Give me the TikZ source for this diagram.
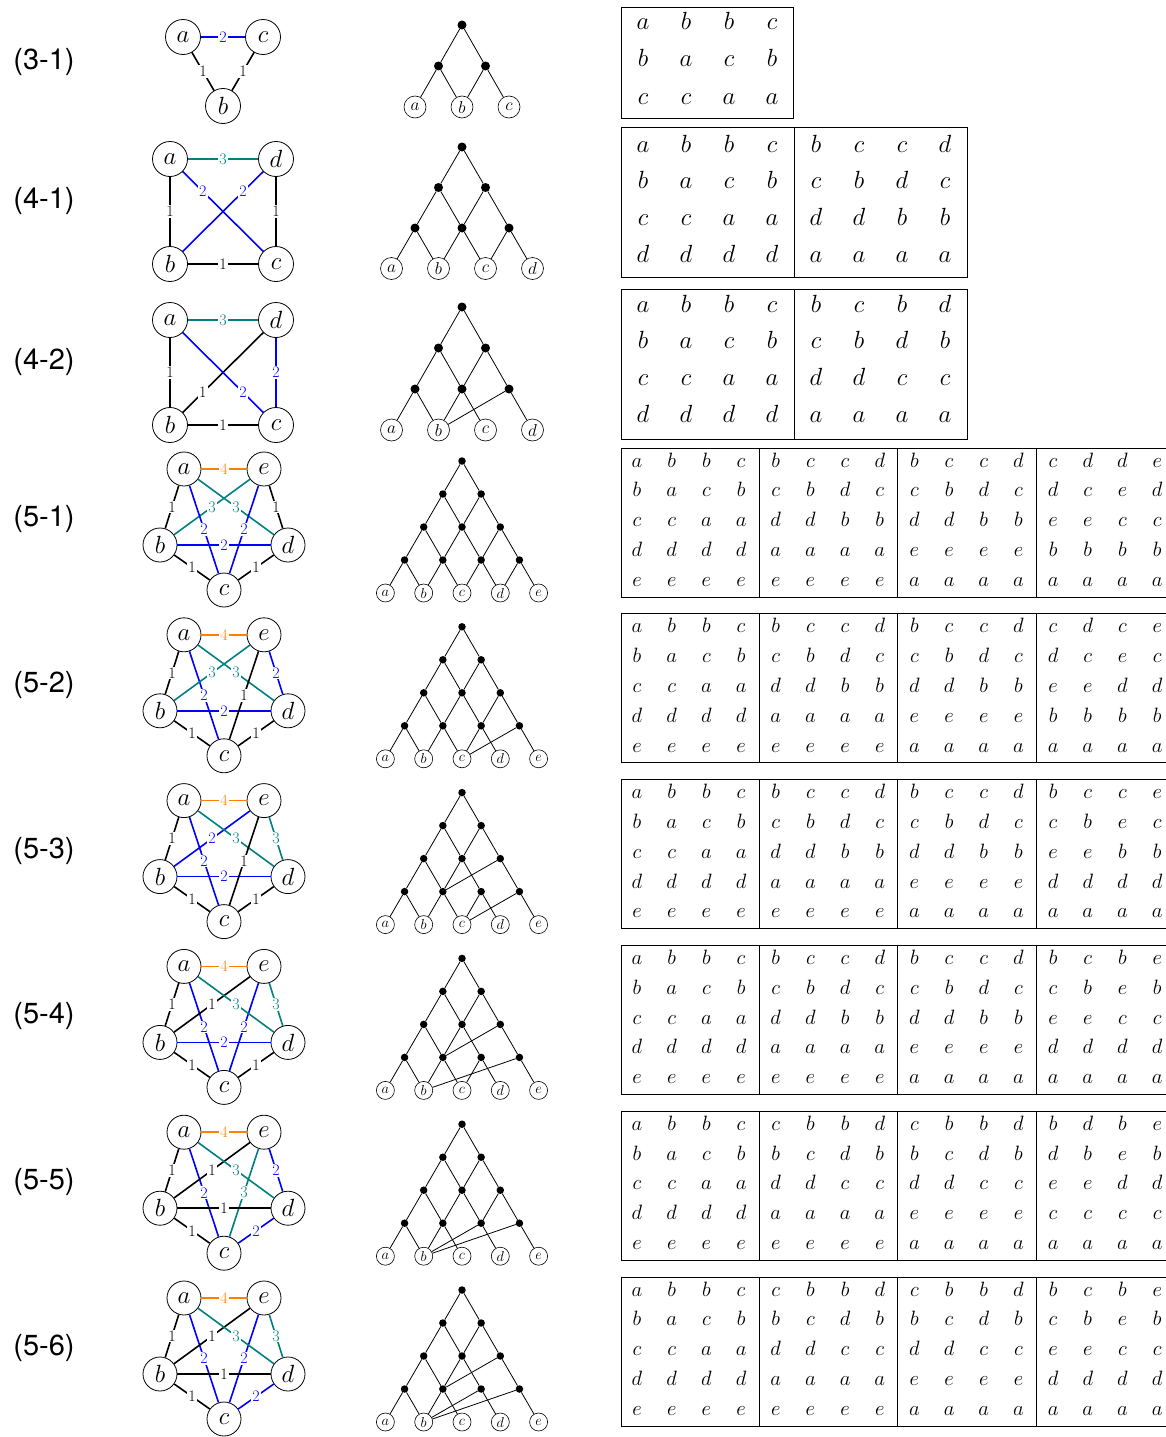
\documentclass[tikz,border=0pt]{standalone}
\usepackage{fontspec}
\newfontfamily\labfont{TeX Gyre Heros}
\definecolor{tealc}{RGB}{0,128,128}
\definecolor{orangec}{RGB}{255,128,0}
\colorlet{col1}{black}
\colorlet{col2}{blue}
\colorlet{col3}{tealc}
\colorlet{col4}{orangec}
\tikzset{
  gnode/.style={circle,draw,line width=0.8pt,minimum size=35pt,inner sep=0pt,font=\fontsize{28}{28}\selectfont,fill=white},
  ew/.style={line width=1.6pt},
  labbase/.style={fill=white,inner sep=1pt,font=\fontsize{16}{16}\selectfont},
  dotA/.style={circle,fill,inner sep=0pt,minimum size=9pt},
  leafA/.style={circle,draw,line width=0.6pt,inner sep=0pt,minimum size=22pt,font=\fontsize{17}{17}\selectfont},
  dotB/.style={circle,fill,inner sep=0pt,minimum size=7.5pt},
  leafB/.style={circle,draw,line width=0.6pt,inner sep=0pt,minimum size=18pt,font=\fontsize{14}{14}\selectfont},
  tline/.style={line width=0.8pt},
  rowlab/.style={font=\labfont\fontsize{29}{29}\selectfont},
  cellA/.style={font=\fontsize{28}{28}\selectfont,inner sep=0pt},
  cellB/.style={font=\fontsize{22}{22}\selectfont,inner sep=0pt},
  tbox/.style={line width=0.8pt},
}
\newcommand\skipe[1]{\expandafter\gdef\csname sk@#1\endcsname{}}
% triangle: #1 prefix, #2 n, #3 top y, #4 hspace, #5 vspace, #6 dot style, #7 leaf style
\newcommand\tri[7]{%
  \foreach \lv in {1,...,#2}{
    \foreach \iv in {1,...,\lv}{
      \pgfmathsetmacro\xx{462+(\iv-(\lv+1)/2)*#4}
      \pgfmathsetmacro\yy{#3+(\lv-1)*#5}
      \ifnum\lv=#2\relax
        \node[#7] (#1-\lv-\iv) at (\xx,\yy) {$\ifcase\iv\or a\or b\or c\or d\or e\fi$};
      \else
        \node[#6] (#1-\lv-\iv) at (\xx,\yy) {};
      \fi
    }
  }
  \pgfmathtruncatemacro\nm{#2-1}
  \foreach \lv in {1,...,\nm}{
    \pgfmathtruncatemacro\lp{\lv+1}
    \foreach \iv in {1,...,\lv}{
      \pgfmathtruncatemacro\ip{\iv+1}
      \ifcsname sk@#1-\lv-\iv-\iv\endcsname\else\draw[tline] (#1-\lv-\iv) -- (#1-\lp-\iv);\fi
      \ifcsname sk@#1-\lv-\iv-\ip\endcsname\else\draw[tline] (#1-\lv-\iv) -- (#1-\lp-\ip);\fi
    }
  }
}
% table grid: #1 name, #2 x0, #3 dx, #4 bx, #5 y0, #6 dy, #7 style, #8 rows
\newcommand\tgrid[8]{%
  \foreach \rw [count=\rr from 0] in {#8}{
    \foreach \ch [count=\cc from 0] in \rw {
      \pgfmathsetmacro\xx{#2+mod(\cc,4)*#3+floor(\cc/4)*#4}
      \pgfmathsetmacro\yy{#5+\rr*#6}
      \node[#7,anchor=mid] (#1-\rr-\cc) at (\xx,\yy) {$\ch$};
    }
  }
}
% pentagon graph: #1 prefix, #2 y offset, #3 edges
\newcommand\pent[3]{%
  \begin{scope}[shift={(0,#2)}]
    \node[gnode,minimum size=34pt] (#1a) at (184,469) {$a$};
    \node[gnode,minimum size=34pt] (#1e) at (264,469) {$e$};
    \node[gnode,minimum size=34pt] (#1b) at (160,545) {$b$};
    \node[gnode,minimum size=34pt] (#1d) at (288,545) {$d$};
    \node[gnode,minimum size=34pt] (#1c) at (224,590) {$c$};
    \foreach \ua/\va/\wa in {#3}{
      \draw[ew,draw=col\wa] (#1\ua) -- node[labbase,text=col\wa]{\wa} (#1\va);
    }
  \end{scope}
}
\begin{document}
\begin{tikzpicture}[x=1pt,y=-1pt]
\useasboundingbox (0,0) rectangle (1165,1437);
\fill[white] (0,0) rectangle (1165,1437);

% ---------- row labels
\node[rowlab] (L31) at (44,62) {(3-1)};
\node[rowlab] (L41) at (44,201) {(4-1)};
\node[rowlab] (L42) at (44,362) {(4-2)};
\foreach \k/\t in {0/5-1,1/5-2,2/5-3,3/5-4,4/5-5,5/5-6}{
  \node[rowlab] (L\t) at (44,{519+\k*165.8}) {(\t)};
}

% ---------- graphs
\node[gnode] (g31a) at (183,37) {$a$};
\node[gnode] (g31c) at (263,37) {$c$};
\node[gnode] (g31b) at (223,106) {$b$};
\draw[ew,draw=col2] (g31a) -- node[labbase,text=col2]{2} (g31c);
\draw[ew,draw=col1] (g31a) -- node[labbase,text=col1]{1} (g31b);
\draw[ew,draw=col1] (g31c) -- node[labbase,text=col1]{1} (g31b);

\node[gnode] (g41a) at (170,159) {$a$};
\node[gnode] (g41d) at (276,159) {$d$};
\node[gnode] (g41b) at (170,264) {$b$};
\node[gnode] (g41c) at (276,264) {$c$};
\draw[ew,draw=col3] (g41a) -- node[labbase,text=col3]{3} (g41d);
\draw[ew,draw=col1] (g41a) -- node[labbase,text=col1]{1} (g41b);
\draw[ew,draw=col1] (g41d) -- node[labbase,text=col1]{1} (g41c);
\draw[ew,draw=col1] (g41b) -- node[labbase,text=col1]{1} (g41c);
\draw[ew,draw=col2] (g41a) -- node[labbase,text=col2,pos=0.25]{2} (g41c);
\draw[ew,draw=col2] (g41b) -- node[labbase,text=col2,pos=0.75]{2} (g41d);

\node[gnode] (g42a) at (170,320) {$a$};
\node[gnode] (g42d) at (276,320) {$d$};
\node[gnode] (g42b) at (170,425) {$b$};
\node[gnode] (g42c) at (276,425) {$c$};
\draw[ew,draw=col3] (g42a) -- node[labbase,text=col3]{3} (g42d);
\draw[ew,draw=col1] (g42a) -- node[labbase,text=col1]{1} (g42b);
\draw[ew,draw=col1] (g42b) -- node[labbase,text=col1]{1} (g42c);
\draw[ew,draw=col2] (g42d) -- node[labbase,text=col2]{2} (g42c);
\draw[ew,draw=col1] (g42b) -- node[labbase,text=col1,pos=0.25]{1} (g42d);
\draw[ew,draw=col2] (g42a) -- node[labbase,text=col2,pos=0.75]{2} (g42c);

\pent{p1}{0}{a/e/4, a/b/1, e/d/1, b/c/1, d/c/1, b/e/3, a/d/3, a/c/2, e/c/2, b/d/2}
\pent{p2}{165.8}{a/e/4, a/b/1, b/c/1, d/c/1, a/c/2, b/d/2, b/e/3, a/d/3, e/d/2, e/c/1}
\pent{p3}{331.6}{a/e/4, a/b/1, b/c/1, d/c/1, a/c/2, b/d/2, b/e/2, a/d/3, e/d/3, e/c/1}
\pent{p4}{497.4}{a/e/4, a/b/1, b/c/1, d/c/1, a/c/2, e/c/2, b/d/2, b/e/1, a/d/3, e/d/3}
\pent{p5}{663.2}{a/e/4, a/b/1, b/c/1, a/c/2, b/e/1, a/d/3, e/d/2, e/c/3, b/d/1, c/d/2}
\pent{p6}{829}{a/e/4, a/b/1, b/c/1, a/c/2, e/c/2, b/e/1, a/d/3, e/d/3, b/d/1, c/d/2}

% ---------- triangles
\tri{t31}{3}{25}{47}{41}{dotA}{leafA}
\tri{t41}{4}{147}{47}{40.5}{dotA}{leafA}
\skipe{t42-3-3-3}
\tri{t42}{4}{307}{47}{41}{dotA}{leafA}
\draw[tline] (t42-3-3) -- (t42-4-2);
\tri{t51}{5}{461}{38.3}{33}{dotB}{leafB}
\skipe{t52-4-4-4}
\tri{t52}{5}{626.8}{38.3}{33}{dotB}{leafB}
\draw[tline] (t52-4-4) -- (t52-5-3);
\skipe{t53-3-3-3}\skipe{t53-4-4-4}
\tri{t53}{5}{792.6}{38.3}{33}{dotB}{leafB}
\draw[tline] (t53-3-3) -- (t53-4-2);
\draw[tline] (t53-4-4) -- (t53-5-3);
\skipe{t54-3-3-3}\skipe{t54-4-4-4}
\tri{t54}{5}{958.4}{38.3}{33}{dotB}{leafB}
\draw[tline] (t54-3-3) -- (t54-4-2);
\draw[tline] (t54-4-4) -- (t54-5-2);
\skipe{t55-4-3-3}\skipe{t55-4-4-4}
\tri{t55}{5}{1124.2}{38.3}{33}{dotB}{leafB}
\draw[tline] (t55-4-3) -- (t55-5-2);
\draw[tline] (t55-4-4) -- (t55-5-2);
\skipe{t56-3-3-3}\skipe{t56-4-3-3}\skipe{t56-4-4-4}
\tri{t56}{5}{1290}{38.3}{33}{dotB}{leafB}
\draw[tline] (t56-3-3) -- (t56-4-2);
\draw[tline] (t56-4-3) -- (t56-5-2);
\draw[tline] (t56-4-4) -- (t56-5-2);

% ---------- tables
\draw[tbox] (621,7) rectangle (793,118);
\tgrid{T31}{643}{43}{0}{27}{37.5}{cellA}{{a,b,b,c},{b,a,c,b},{c,c,a,a}}

\draw[tbox] (621,127) rectangle (967,277);
\draw[tbox] (794,127) -- (794,277);
\tgrid{T41}{643}{43}{173}{150}{36.7}{cellA}{{a,b,b,c,b,c,c,d},{b,a,c,b,c,b,d,c},{c,c,a,a,d,d,b,b},{d,d,d,d,a,a,a,a}}

\draw[tbox] (621,289) rectangle (967,439);
\draw[tbox] (794,289) -- (794,439);
\tgrid{T42}{643}{43}{173}{310}{36.7}{cellA}{{a,b,b,c,b,c,b,d},{b,a,c,b,c,b,d,b},{c,c,a,a,d,d,c,c},{d,d,d,d,a,a,a,a}}

\foreach \k in {0,...,5}{
  \draw[tbox] (621,{448+\k*165.8}) rectangle (1175,{597+\k*165.8});
  \foreach \xd in {759,897.5,1036}{
    \draw[tbox] (\xd,{448+\k*165.8}) -- (\xd,{597+\k*165.8});
  }
}
\tgrid{T51}{637}{34.7}{138.7}{465}{29.8}{cellB}{
 {a,b,b,c,b,c,c,d,b,c,c,d,c,d,d,e},
 {b,a,c,b,c,b,d,c,c,b,d,c,d,c,e,d},
 {c,c,a,a,d,d,b,b,d,d,b,b,e,e,c,c},
 {d,d,d,d,a,a,a,a,e,e,e,e,b,b,b,b},
 {e,e,e,e,e,e,e,e,a,a,a,a,a,a,a,a}}
\tgrid{T52}{637}{34.7}{138.7}{630.8}{29.8}{cellB}{
 {a,b,b,c,b,c,c,d,b,c,c,d,c,d,c,e},
 {b,a,c,b,c,b,d,c,c,b,d,c,d,c,e,c},
 {c,c,a,a,d,d,b,b,d,d,b,b,e,e,d,d},
 {d,d,d,d,a,a,a,a,e,e,e,e,b,b,b,b},
 {e,e,e,e,e,e,e,e,a,a,a,a,a,a,a,a}}
\tgrid{T53}{637}{34.7}{138.7}{796.6}{29.8}{cellB}{
 {a,b,b,c,b,c,c,d,b,c,c,d,b,c,c,e},
 {b,a,c,b,c,b,d,c,c,b,d,c,c,b,e,c},
 {c,c,a,a,d,d,b,b,d,d,b,b,e,e,b,b},
 {d,d,d,d,a,a,a,a,e,e,e,e,d,d,d,d},
 {e,e,e,e,e,e,e,e,a,a,a,a,a,a,a,a}}
\tgrid{T54}{637}{34.7}{138.7}{962.4}{29.8}{cellB}{
 {a,b,b,c,b,c,c,d,b,c,c,d,b,c,b,e},
 {b,a,c,b,c,b,d,c,c,b,d,c,c,b,e,b},
 {c,c,a,a,d,d,b,b,d,d,b,b,e,e,c,c},
 {d,d,d,d,a,a,a,a,e,e,e,e,d,d,d,d},
 {e,e,e,e,e,e,e,e,a,a,a,a,a,a,a,a}}
\tgrid{T55}{637}{34.7}{138.7}{1128.2}{29.8}{cellB}{
 {a,b,b,c,c,b,b,d,c,b,b,d,b,d,b,e},
 {b,a,c,b,b,c,d,b,b,c,d,b,d,b,e,b},
 {c,c,a,a,d,d,c,c,d,d,c,c,e,e,d,d},
 {d,d,d,d,a,a,a,a,e,e,e,e,c,c,c,c},
 {e,e,e,e,e,e,e,e,a,a,a,a,a,a,a,a}}
\tgrid{T56}{637}{34.7}{138.7}{1294}{29.8}{cellB}{
 {a,b,b,c,c,b,b,d,c,b,b,d,b,c,b,e},
 {b,a,c,b,b,c,d,b,b,c,d,b,c,b,e,b},
 {c,c,a,a,d,d,c,c,d,d,c,c,e,e,c,c},
 {d,d,d,d,a,a,a,a,e,e,e,e,d,d,d,d},
 {e,e,e,e,e,e,e,e,a,a,a,a,a,a,a,a}}
\end{tikzpicture}
\end{document}
